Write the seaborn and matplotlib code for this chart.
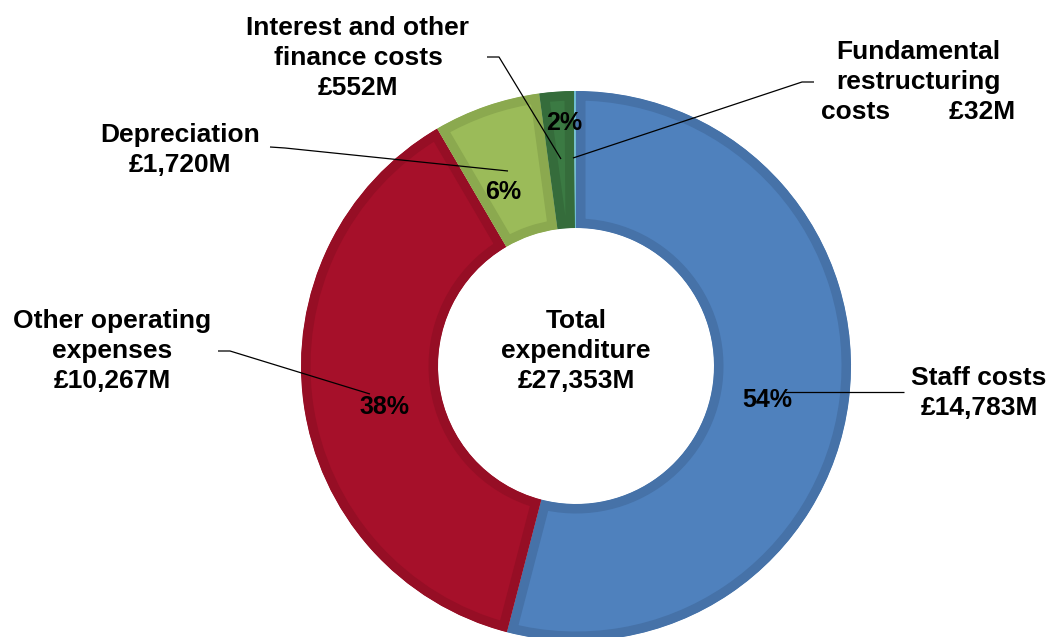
import matplotlib
matplotlib.use("Agg")
import matplotlib.pyplot as plt
from matplotlib.transforms import TransformedPath
import seaborn as sns

# Expenditure breakdown (£M), clockwise from 12 o'clock
categories = ["Staff costs", "Other operating\nexpenses", "Depreciation",
              "Interest and other\nfinance costs", "Fundamental\nrestructuring\ncosts"]
values = [14783, 10267, 1720, 552, 32]
total_reported = 27353

fill_colors = ["#4F81BD", "#A6102A", "#9BBB59", "#3B7A43", "#7CC8DD"]
edge_colors = ["#4672A8", "#960E25", "#8BA94F", "#356C3B", "#6DBCD2"]

sns.set_theme(style="white")
plt.rcParams["font.family"] = ["Liberation Sans", "DejaVu Sans"]

W, H = 1050, 637
fig = plt.figure(figsize=(W / 100, H / 100), dpi=100)
ax = fig.add_axes([0, 0, 1, 1])


def px(x, y):
    """Pixel position (y measured downward) to data coordinates."""
    return x, H - y


cx, cy = px(576, 366)
R_OUT, R_IN = 275, 138

wedges, _ = ax.pie(values, colors=fill_colors, startangle=90, counterclock=False,
                   radius=R_OUT, center=(cx, cy),
                   wedgeprops=dict(width=R_OUT - R_IN, linewidth=0))

ax.set_xlim(0, W)
ax.set_ylim(0, H)
ax.set_aspect("auto")
ax.axis("off")

# Inset bevel: a wide edge clipped to the wedge's own outline leaves a darker inner rim
for w, ec in zip(wedges, edge_colors):
    w.set_edgecolor(ec)
    w.set_linewidth(19 * 72 / 100)
    w.set_clip_on(True)
    w.set_clip_path(TransformedPath(w.get_path(), w.get_transform()))

total = sum(values)
pcts = [v / total * 100 for v in values]

# Percentage labels on the ring
pct_pos = [(767, 400), (384, 407), (503, 192), (564, 123), None]
for p, pos in zip(pcts, pct_pos):
    if pos is None:
        continue
    ax.text(*px(*pos), f"{p:.0f}%", ha="center", va="center",
            fontsize=18, fontweight="bold", color="black")

# Category labels with values
cat_pos = [(979, 393), (112, 351), (180, 150), (358, 58), (918, 82)]
for i, (cat, v, pos) in enumerate(zip(categories, values, cat_pos)):
    if i == 4:
        txt = f"{cat}        £{v:,}M"
    else:
        txt = f"{cat}\n£{v:,}M"
    ax.text(*px(*pos), txt, ha="center", va="center", fontsize=19,
            fontweight="bold", color="black", linespacing=1.3)

# Leader lines
leaders = [
    [(904, 392), (785, 392)],
    [(218, 351), (230, 351), (370, 394)],
    [(270, 147), (285, 148), (508, 171)],
    [(487, 57), (499, 57), (561, 159)],
    [(814, 82), (802, 82), (573, 158)],
]
for pts in leaders:
    xs, ys = zip(*[px(x, y) for x, y in pts])
    ax.plot(xs, ys, color="black", lw=0.9, solid_capstyle="butt")

# Centre text
ax.text(*px(576, 351), f"Total\nexpenditure\n£{total_reported:,}M",
        ha="center", va="center", fontsize=19, fontweight="bold",
        color="black", linespacing=1.3)

fig.savefig("out.png", dpi=100)
